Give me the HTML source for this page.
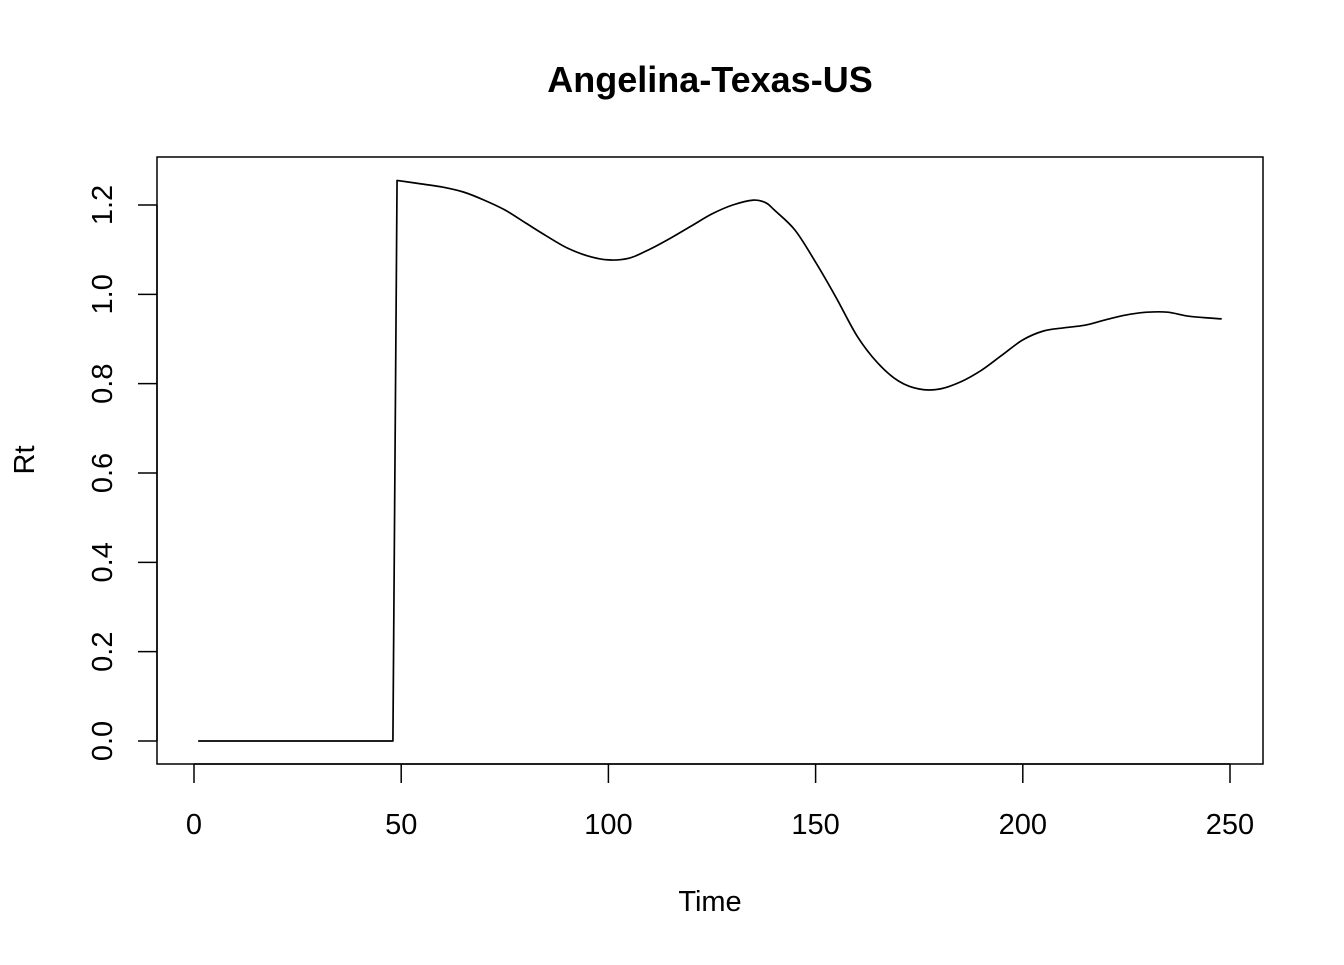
<!DOCTYPE html>
<html><head><meta charset="utf-8"><style>
html,body{margin:0;padding:0;background:#fff;}
svg text{font-family:"Liberation Sans",Arial,sans-serif;fill:#000;}
</style></head><body>
<svg id="chart" width="1344" height="960" xmlns="http://www.w3.org/2000/svg">
<rect width="1344" height="960" fill="#fff"/>
<text x="710" y="92" text-anchor="middle" font-size="36" font-weight="bold">Angelina-Texas-US</text>
<rect x="157" y="157" width="1106" height="607" fill="none" stroke="#000" stroke-width="1.5"/>
<text x="710" y="911" text-anchor="middle" font-size="29">Time</text>
<text transform="translate(34,460) rotate(-90)" text-anchor="middle" font-size="29">Rt</text>
<g id="axes"></g>
<g id="series"></g>
</svg>
<script>
const times=[1,48,49,55,60,65,70,75,80,85,90,95,100,105,110,115,120,125,130,135,138,140,145,150,155,160,165,170,175,180,185,190,195,200,205,210,215,220,225,230,235,240,245,248];
const rtValues=[0,0,1.255,1.247,1.24,1.229,1.211,1.189,1.16,1.131,1.104,1.086,1.077,1.081,1.101,1.126,1.153,1.18,1.2,1.211,1.205,1.189,1.144,1.072,0.992,0.907,0.846,0.806,0.788,0.788,0.804,0.83,0.864,0.898,0.918,0.925,0.931,0.943,0.954,0.96,0.96,0.951,0.947,0.945];
const xTicks=[0,50,100,150,200,250];
const yTicks=[0,0.2,0.4,0.6,0.8,1.0,1.2];
const NS="http://www.w3.org/2000/svg";
function xs(t){return 194+(t-0)*(1230-194)/250;}
function ys(v){return 741-v*(741-205)/1.2;}
const axes=document.getElementById('axes');
function mk(tag,attrs,parent){const e=document.createElementNS(NS,tag);for(const k in attrs)e.setAttribute(k,attrs[k]);parent.appendChild(e);return e;}
mk('line',{x1:xs(xTicks[0]),x2:xs(xTicks[xTicks.length-1]),y1:764,y2:764,stroke:'#000','stroke-width':1.5},axes);
xTicks.forEach(t=>{
 const l=mk('line',{x1:xs(t),x2:xs(t),y1:764,y2:783,stroke:'#000','stroke-width':1.5},axes);
 
 
 const tx=mk('text',{x:xs(t),y:834,'text-anchor':'middle','font-size':29},axes);
 tx.textContent=String(t);
 
 
});
mk('line',{x1:157,x2:157,y1:ys(yTicks[0]),y2:ys(yTicks[yTicks.length-1]),stroke:'#000','stroke-width':1.5},axes);
yTicks.forEach(v=>{
 const l=mk('line',{x1:138,x2:157,y1:ys(v),y2:ys(v),stroke:'#000','stroke-width':1.5},axes);
 
 
 const tx=mk('text',{transform:`translate(112,${ys(v)}) rotate(-90)`,'text-anchor':'middle','font-size':29},axes);
 tx.textContent=v.toFixed(1);
 
 
});
// smooth path (Catmull-Rom) after the jump, straight segments before
const P=times.map((t,i)=>[xs(t),ys(rtValues[i])]);
let d='M'+P[0][0]+','+P[0][1]+' L'+P[1][0]+','+P[1][1]+' L'+P[2][0]+','+P[2][1];
for(let i=2;i<P.length-1;i++){
 const p0=P[Math.max(i-1,2)],p1=P[i],p2=P[i+1],p3=P[Math.min(i+2,P.length-1)];
 const c1=[p1[0]+(p2[0]-p0[0])/6,p1[1]+(p2[1]-p0[1])/6];
 const c2=[p2[0]-(p3[0]-p1[0])/6,p2[1]-(p3[1]-p1[1])/6];
 d+=` C${c1[0].toFixed(1)},${c1[1].toFixed(1)} ${c2[0].toFixed(1)},${c2[1].toFixed(1)} ${p2[0].toFixed(1)},${p2[1].toFixed(1)}`;
}
const line=mk('path',{d:d,fill:'none',stroke:'#000','stroke-width':1.7,'stroke-linejoin':'round'},document.getElementById('series'));


</script>
</body></html>
